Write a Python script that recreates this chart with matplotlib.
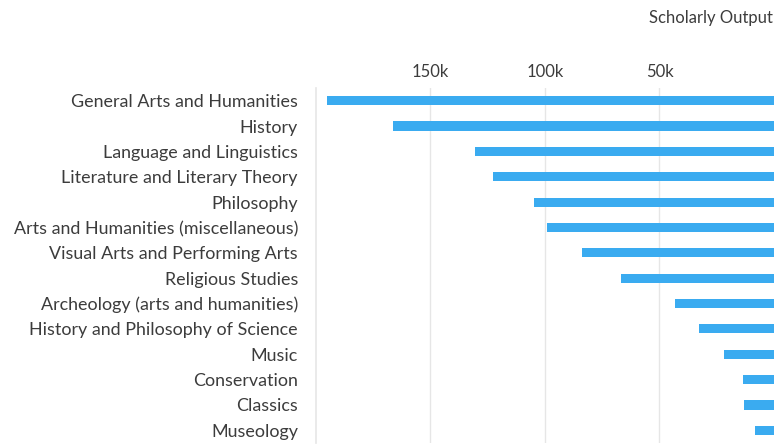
import matplotlib.pyplot as plt
from matplotlib.ticker import FuncFormatter

plt.rcParams['font.family'] = ['Lato', 'DejaVu Sans']

categories = [
    "General Arts and Humanities",
    "History",
    "Language and Linguistics",
    "Literature and Literary Theory",
    "Philosophy",
    "Arts and Humanities (miscellaneous)",
    "Visual Arts and Performing Arts",
    "Religious Studies",
    "Archeology (arts and humanities)",
    "History and Philosophy of Science",
    "Music",
    "Conservation",
    "Classics",
    "Museology",
]
output = [195400, 166200, 130400, 122500, 104700, 99000, 83700,
          66700, 43300, 32800, 21900, 13700, 13100, 8400]
xticks = [50000, 100000, 150000]

bar_color = "#3aabf0"
text_color = "#3c3c3c"
grid_color = "#e6e6e6"

fig = plt.figure(figsize=(7.75, 4.45), dpi=100)
ax = fig.add_axes([0.4077, 0.0045, 0.5910, 0.7977])

y = list(range(len(categories)))
ax.barh(y, output, height=0.36, color=bar_color, zorder=3)

ax.set_xlim(200000, 0)
ax.set_ylim(len(categories) - 0.5, -0.5)

ax.set_yticks(y)
ax.set_yticklabels(categories, fontsize=12.9, color=text_color)
ax.tick_params(axis='y', length=0, pad=13)

ax.xaxis.tick_top()
ax.set_xticks(xticks)
ax.xaxis.set_major_formatter(FuncFormatter(lambda v, p: f"{int(v/1000)}k"))
ax.tick_params(axis='x', length=0, pad=6, labelsize=12, colors=text_color)
ax.grid(axis='x', color=grid_color, linewidth=1, zorder=0)

for s in ['top', 'right', 'bottom']:
    ax.spines[s].set_visible(False)
ax.spines['left'].set_color(grid_color)
ax.spines['left'].set_linewidth(1.2)

fig.text(0.997, 0.96, "Scholarly Output", ha='right', va='center',
         fontsize=12, color=text_color)

fig.savefig("out.png", dpi=100)
